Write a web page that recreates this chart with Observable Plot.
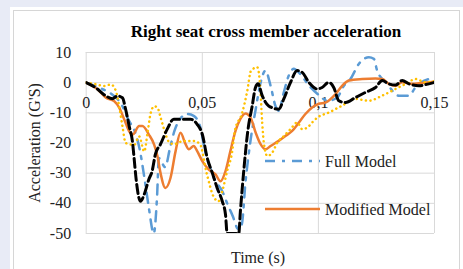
<!DOCTYPE html>
<html><head><meta charset="utf-8">
<script src="https://cdn.jsdelivr.net/npm/d3@7"></script>
<script src="https://cdn.jsdelivr.net/npm/@observablehq/plot@0.6"></script>
<style>
html,body{margin:0;padding:0;background:#e8ebf6;width:463px;height:269px;overflow:hidden;}
#outer{position:absolute;left:10px;top:7px;width:453px;height:262px;background:#fff;}
#inner{position:absolute;left:13px;top:10px;width:445px;height:270px;border:1px solid #d6d6d6;background:#fff;}
#chart{position:absolute;left:0;top:0;}
#chart svg text{font-family:'Liberation Serif','Times New Roman',serif;}
</style></head><body>
<div id="outer"></div><div id="inner"></div><div id="chart"></div>
<script>
const title = "Right seat cross member acceleration";
const xLabel = "Time (s)";
const yLabel = "Acceleration (G'S)";
const xTicks = [0, 0.05, 0.1, 0.15];
const xTickLabels = ["0", "0,05", "0,1", "0,15"];
const yTicks = [-50, -40, -30, -20, -10, 0, 10];
const legendNames = ["Full Model", "Modified Model"];

// Black dashed series
const blackT = [0,0.0041,0.0085,0.0113,0.0135,0.0156,0.017,0.0185,0.02,0.0207,0.0215,0.0234,0.025,0.027,0.0284,0.0298,0.032,0.0349,0.0377,0.0413,0.0449,0.0478,0.05,0.0521,0.0543,0.0564,0.0586,0.06,0.0607,0.0657,0.0664,0.068,0.0696,0.0715,0.0729,0.074,0.0758,0.0786,0.0829,0.0851,0.088,0.0909,0.093,0.0959,0.0995,0.1016,0.1045,0.1066,0.1088,0.1117,0.116,0.1203,0.1246,0.1275,0.1303,0.1332,0.1361,0.139,0.1433,0.1475,0.15];
const blackV = [0,-1.7,-4.4,-5.3,-4.4,-5,-8.9,-14.4,-20,-25.6,-32,-39.3,-37,-32,-29.3,-23.7,-20.4,-15.4,-12.1,-12.1,-12.1,-13.8,-17.1,-24.9,-29.9,-34.9,-39.3,-43.8,-50,-50,-42.7,-28,-16,-7.7,-1.6,-0.4,-4.3,-7.7,-8.8,-5.4,0.1,4,3.4,0.1,-2.1,-1.6,0.1,-1.6,-6,-6.6,-4.9,-3.2,-1.6,0.7,-0.4,-0.8,0.7,-0.4,-1,-0.4,0.1];

// Full Model (blue dash-dot)
const fullT = [0,0.0069,0.0105,0.0156,0.018,0.0214,0.023,0.0255,0.027,0.0291,0.0305,0.0313,0.034,0.036,0.038,0.0405,0.0435,0.0463,0.0492,0.0506,0.055,0.0586,0.0607,0.063,0.0655,0.067,0.0686,0.0708,0.073,0.0751,0.0772,0.0794,0.0815,0.0829,0.0851,0.0872,0.0894,0.092,0.096,0.1,0.104,0.108,0.111,0.1138,0.1174,0.1217,0.1239,0.1253,0.1296,0.1346,0.139,0.1418,0.1483,0.15];
const fullV = [0,-2.1,-3.5,-7.8,-12,-17.2,-22,-33.8,-41.6,-50,-38,-25,-28,-22,-16,-12,-10.4,-11,-14.9,-20.4,-31.6,-36,-40,-44,-48.5,-47,-33,-19,-8.8,0,4,-1,-7.7,-9.3,-3.2,2.3,4.6,3,-1,-4,-6,-5,-1,1.2,6.2,8.4,7.9,4,-0.4,-4.3,-4.3,-1.6,1.2,0];

// Modified Model (orange solid)
const modT = [0,0.0049,0.0085,0.012,0.0142,0.0164,0.0185,0.02,0.0228,0.0242,0.027,0.0293,0.0307,0.032,0.0341,0.0363,0.0385,0.0406,0.0428,0.0442,0.0463,0.0478,0.05,0.0528,0.0557,0.0578,0.06,0.0621,0.0643,0.0664,0.0686,0.0708,0.073,0.0751,0.0772,0.0794,0.0829,0.0858,0.0887,0.0916,0.0944,0.0973,0.1002,0.103,0.1074,0.1103,0.1131,0.1189,0.1246,0.1275,0.1303,0.1332,0.1361,0.1404,0.1447,0.15];
const modV = [0,-2.2,-5,-6.1,-8.3,-12.2,-16.1,-17.2,-14.4,-14.4,-17.2,-20.6,-24.4,-29.9,-34.9,-31.6,-22.7,-16.6,-20.4,-22.1,-21,-22.7,-26,-28.8,-30.4,-32.7,-29.3,-22.7,-16,-12,-10.2,-11.6,-16.6,-20.4,-22.1,-21,-19.3,-17.7,-16,-13.2,-10.4,-8.2,-7,-6.6,-3.8,-1,0.7,1.2,1.4,1.2,-0.4,-1,0.1,-0.4,-0.1,0.3];

// Yellow dotted series
const yelT = [0,0.004,0.0078,0.0106,0.0128,0.0142,0.0156,0.017,0.0207,0.0228,0.025,0.0264,0.0278,0.0293,0.0307,0.0321,0.0336,0.0355,0.0377,0.042,0.0463,0.049,0.052,0.055,0.057,0.0586,0.0607,0.0629,0.064,0.0672,0.0693,0.071,0.0737,0.075,0.0758,0.0765,0.078,0.0801,0.0823,0.0851,0.088,0.0909,0.093,0.0952,0.0973,0.0995,0.1045,0.11,0.116,0.1217,0.1275,0.1332,0.1376,0.1419,0.1462,0.15];
const yelV = [0,-0.5,-1.1,-0.6,-2.8,-7.8,-14.4,-20,-20.6,-17.8,-22.8,-16.7,-10,-7.8,-8.3,-11.7,-15.6,-19.5,-20.4,-19.3,-19.3,-20.4,-30.4,-38,-39.3,-36,-29.3,-22.7,-16,-10,-3,4,5.1,-2.1,-13.2,-19.9,-24.3,-23.2,-19.9,-17.7,-15.4,-13.2,-15.4,-14.9,-13.2,-11.6,-9.9,-7.7,-5.4,-6,-4.3,-2.1,-0.4,1.2,0.1,0.5];

const toRows = (t, v) => t.map((x, i) => ({t: x, v: v[i]}));

const font = "'Liberation Serif','Times New Roman',serif";
const lineOpts = {x: "t", y: "v", curve: "monotone-x", clip: true};

const chart = Plot.plot({
  width: 463, height: 269,
  marginLeft: 85.7, marginRight: 29, marginTop: 52, marginBottom: 36,
  x: {domain: [0, 0.15], axis: null},
  y: {domain: [-50, 10]},
  style: {fontFamily: font, fontSize: "16px", background: "transparent", color: "#222", overflow: "visible"},
  marks: [
    Plot.gridY(yTicks, {stroke: "#d9d9d9", strokeOpacity: 1, strokeWidth: 1}),
    Plot.gridX(xTicks, {stroke: "#d9d9d9", strokeOpacity: 1, strokeWidth: 1}),
    Plot.axisY(yTicks, {tickSize: 0, tickPadding: 15, tickFormat: d => String(d), label: null, fontSize: 16, fontFamily: font, fill: "#222"}),
    Plot.text(xTicks, {x: d => d, y: () => 0, text: (d, i) => xTickLabels[i], dy: 20, fontSize: 16, fontFamily: font, fill: "#222"}),
    Plot.line(toRows(fullT, fullV), {...lineOpts, stroke: "#5b9bd5", strokeWidth: 2.5, strokeDasharray: "10,7,3,7"}),
    Plot.line(toRows(modT, modV), {...lineOpts, stroke: "#ed7d31", strokeWidth: 2.5}),
    Plot.line(toRows(yelT, yelV), {...lineOpts, stroke: "#ffc000", strokeWidth: 2.5, strokeDasharray: "0.1,4.5", strokeLinecap: "round"}),
    Plot.line(toRows(blackT, blackV), {...lineOpts, stroke: "#000", strokeWidth: 3, strokeDasharray: "9,4"})
  ]
});
document.getElementById("chart").appendChild(chart);

const svg = d3.select(chart);
svg.append("text").attr("x", 266).attr("y", 37).attr("text-anchor", "middle")
  .attr("font-family", font).attr("font-size", 17).attr("font-weight", "bold").attr("fill", "#000").text(title);
svg.append("text").attr("x", 258).attr("y", 263).attr("text-anchor", "middle")
  .attr("font-family", font).attr("font-size", 16).attr("fill", "#222").text(xLabel);
svg.append("text").attr("transform", "translate(40,143) rotate(-90)").attr("text-anchor", "middle")
  .attr("font-family", font).attr("font-size", 16).attr("fill", "#222").text(yLabel);

// legend
const leg = [
  {y: 161, stroke: "#5b9bd5", dash: "10,7,3,7"},
  {y: 209, stroke: "#ed7d31", dash: null}
];
leg.forEach((l, i) => {
  const ln = svg.append("line").attr("x1", 265).attr("x2", 320).attr("y1", l.y).attr("y2", l.y)
    .attr("stroke", l.stroke).attr("stroke-width", 2.5);
  if (l.dash) ln.attr("stroke-dasharray", l.dash);
  svg.append("text").attr("x", 325).attr("y", l.y).attr("dy", "0.35em").attr("text-anchor", "start")
    .attr("font-family", font).attr("font-size", 16).attr("fill", "#222").text(legendNames[i]);
});
</script>
</body></html>
